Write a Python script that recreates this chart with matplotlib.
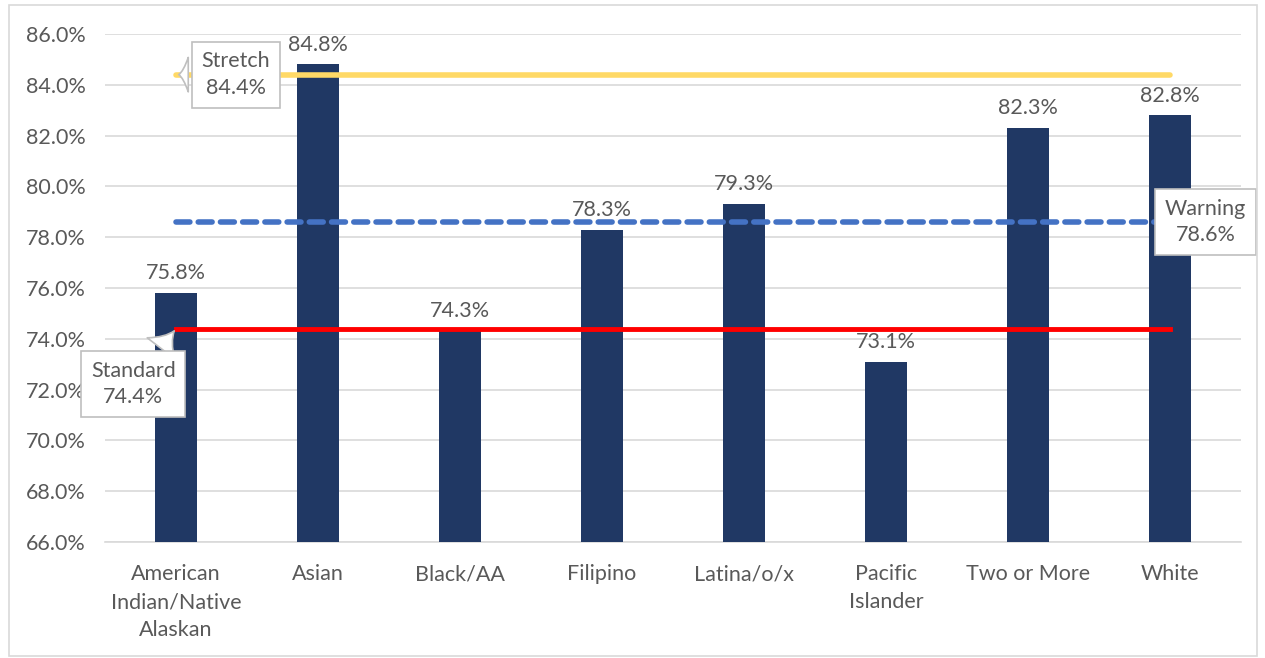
import matplotlib.pyplot as plt
from matplotlib.patches import Rectangle

# grad rates by student group, with three target lines
groups = ["American\nIndian/Native\nAlaskan", "Asian", "Black/AA", "Filipino",
          "Latina/o/x", "Pacific\nIslander", "Two or More", "White"]
rates = [75.8, 84.8, 74.3, 78.3, 79.3, 73.1, 82.3, 82.8]
standard = 74.4
warning = 78.6
stretch = 84.4

plt.rcParams['font.family'] = ['Lato', 'DejaVu Sans']
txt = '#595959'
fs = 15.5

fig = plt.figure(figsize=(12.65, 6.58), dpi=100)
ax = fig.add_axes([105 / 1265, 1 - 542 / 658, (1241 - 105) / 1265, (542 - 34) / 658])

x = list(range(len(groups)))
ax.bar(x, rates, width=0.3, color='#203864', zorder=3)
for xi, r in zip(x, rates):
    ax.annotate(f"{r:.1f}%", (xi, r), xytext=(0, 7), textcoords='offset points',
                ha='center', va='bottom', fontsize=fs, color=txt, zorder=5)

ax.plot(x, [stretch] * len(x), color='#FFD966', lw=4, zorder=4, solid_capstyle='round')
ax.plot(x, [warning] * len(x), color='#4472C4', lw=4, ls=(0, (2.5, 1.5)), zorder=4,
        dash_capstyle='round')
ax.plot(x, [standard] * len(x), color='#FF0000', lw=3.5, zorder=4)

ax.set_ylim(66, 86)
ax.set_xlim(-0.5, len(x) - 0.5)
ax.set_yticks([66 + 2 * i for i in range(11)])
ax.set_yticklabels([f"{66 + 2 * i:.1f}%" for i in range(11)])
ax.grid(axis='y', color='#D9D9D9', lw=1.2, zorder=0)
ax.set_xticks(x)
ax.set_xticklabels(groups, linespacing=1.5)
ax.tick_params(length=0, labelsize=fs, labelcolor=txt)
ax.tick_params(axis='y', pad=14)
ax.tick_params(axis='x', pad=16)
for s in ['top', 'right', 'left']:
    ax.spines[s].set_visible(False)
ax.spines['bottom'].set_color('#D9D9D9')
ax.spines['bottom'].set_linewidth(1.2)

# callouts for the target lines
box = dict(boxstyle='square,pad=0.45', fc='white', ec='#BFBFBF', lw=1.2)
arrow = dict(arrowstyle='wedge,tail_width=1.6,shrink_factor=0.35', fc='white',
             ec='#BFBFBF', lw=1.2)
ax.annotate(f"Stretch\n{stretch:.1f}%", (0, stretch), xytext=(0.42, 84.4),
            ha='center', va='center', fontsize=fs, color=txt, bbox=box,
            arrowprops=arrow, zorder=6, linespacing=1.4)
ax.annotate(f"Standard\n{standard:.1f}%", (0, standard), xytext=(-0.3, 72.22),
            ha='center', va='center', fontsize=fs, color=txt, bbox=box,
            arrowprops=arrow, zorder=6, linespacing=1.4)
ax.annotate(f"Warning\n{warning:.1f}%", (7, warning), xytext=(7.25, 78.6),
            ha='center', va='center', fontsize=fs, color=txt, bbox=box,
            zorder=6, linespacing=1.4, annotation_clip=False)

fig.patches.append(Rectangle((9 / 1265, 2 / 658), 1248 / 1265, 651 / 658,
                             transform=fig.transFigure, fill=False,
                             ec='#D9D9D9', lw=1.2))

fig.savefig('out.png', dpi=100)
